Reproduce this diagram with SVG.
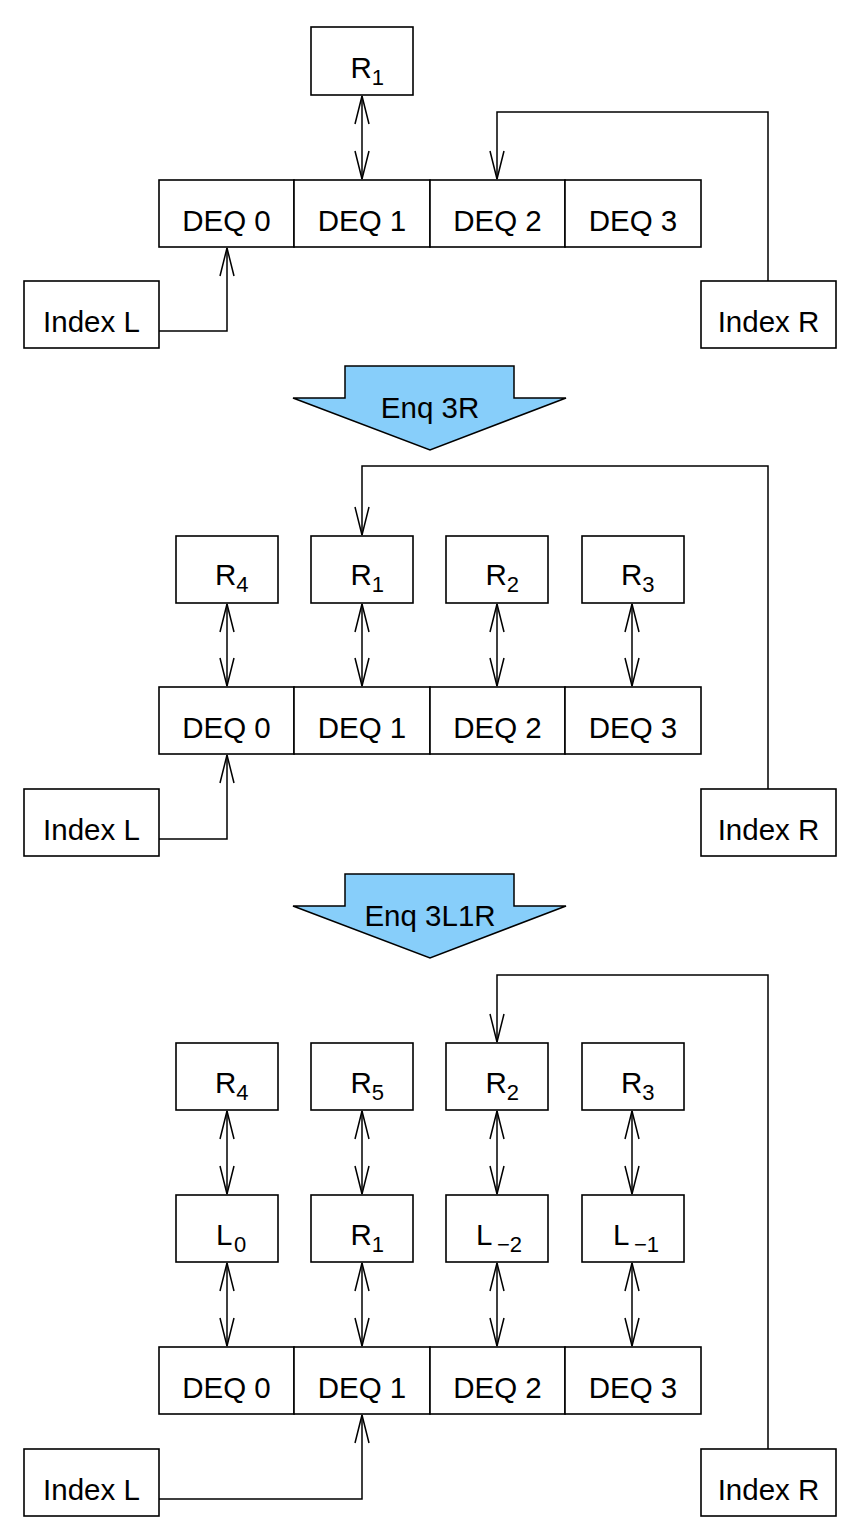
<svg xmlns="http://www.w3.org/2000/svg" width="866" height="1536" viewBox="0 0 866 1536">
<defs>
<marker id="ah" markerUnits="userSpaceOnUse" markerWidth="32" markerHeight="18" viewBox="-30 -9 32 18" refX="0" refY="0" orient="auto-start-reverse">
<path d="M-28,-7 L0,0 L-28,7" fill="none" stroke="#000" stroke-width="1.5"/>
</marker>
<style>
.box{fill:#fff;stroke:#000;stroke-width:1.6}
.t{font-family:"Liberation Sans",Arial,Helvetica,sans-serif;font-size:29.5px;fill:#000}
.m{text-anchor:middle}
.sub{font-size:22px}
.c{fill:none;stroke:#000;stroke-width:1.5}
.c1{marker-end:url(#ah)}
.c2{marker-start:url(#ah);marker-end:url(#ah)}
.blk{fill:#87cefa;stroke:#000;stroke-width:1.5;stroke-linejoin:miter}
</style>
</defs>
<rect width="866" height="1536" fill="#fff"/>

<g id="connectors">
<!-- section 1 -->
<path class="c c2" d="M362,96 V179"/>
<path class="c c1" d="M768,281 V112 H497 V179"/>
<path class="c c1" d="M159,331 H227 V248"/>
<!-- section 2 -->
<path class="c c2" d="M227,604 V686"/>
<path class="c c2" d="M362,604 V686"/>
<path class="c c2" d="M497,604 V686"/>
<path class="c c2" d="M632,604 V686"/>
<path class="c c1" d="M768,789 V466 H362 V535"/>
<path class="c c1" d="M159,839 H227 V755"/>
<!-- section 3 -->
<path class="c c2" d="M227,1111 V1194"/>
<path class="c c2" d="M362,1111 V1194"/>
<path class="c c2" d="M497,1111 V1194"/>
<path class="c c2" d="M632,1111 V1194"/>
<path class="c c2" d="M227,1263 V1346"/>
<path class="c c2" d="M362,1263 V1346"/>
<path class="c c2" d="M497,1263 V1346"/>
<path class="c c2" d="M632,1263 V1346"/>
<path class="c c1" d="M768,1449 V975 H497 V1042"/>
<path class="c c1" d="M159,1499 H362 V1415"/>
</g>

<!-- ===== Section 1 ===== -->
<g id="s1-R1"><rect class="box" x="311" y="27" width="102" height="68"/><text class="t" x="350.5" y="78">R<tspan class="sub" dy="7">1</tspan></text></g>
<g id="s1-deq0"><rect class="box" x="159" y="180" width="135" height="67"/><text class="t m" x="226.5" y="231">DEQ 0</text></g>
<g id="s1-deq1"><rect class="box" x="294" y="180" width="136" height="67"/><text class="t m" x="362" y="231">DEQ 1</text></g>
<g id="s1-deq2"><rect class="box" x="430" y="180" width="135" height="67"/><text class="t m" x="497.5" y="231">DEQ 2</text></g>
<g id="s1-deq3"><rect class="box" x="565" y="180" width="136" height="67"/><text class="t m" x="633" y="231">DEQ 3</text></g>
<g id="s1-indexL"><rect class="box" x="24" y="281" width="135" height="67"/><text class="t m" x="91.5" y="332">Index L</text></g>
<g id="s1-indexR"><rect class="box" x="701" y="281" width="135" height="67"/><text class="t m" x="768.5" y="332">Index R</text></g>

<g id="op1"><polygon class="blk" points="345,366 514,366 514,398 566,398 430,450 293,398 345,398"/><text class="t m" x="430" y="418">Enq 3R</text></g>

<!-- ===== Section 2 ===== -->
<g id="s2-R4"><rect class="box" x="176" y="536" width="102" height="67"/><text class="t" x="215" y="585">R<tspan class="sub" dy="7">4</tspan></text></g>
<g id="s2-R1"><rect class="box" x="311" y="536" width="102" height="67"/><text class="t" x="350.5" y="585">R<tspan class="sub" dy="7">1</tspan></text></g>
<g id="s2-R2"><rect class="box" x="446" y="536" width="102" height="67"/><text class="t" x="485.5" y="585">R<tspan class="sub" dy="7">2</tspan></text></g>
<g id="s2-R3"><rect class="box" x="582" y="536" width="102" height="67"/><text class="t" x="621" y="585">R<tspan class="sub" dy="7">3</tspan></text></g>
<g id="s2-deq0"><rect class="box" x="159" y="687" width="135" height="67"/><text class="t m" x="226.5" y="738">DEQ 0</text></g>
<g id="s2-deq1"><rect class="box" x="294" y="687" width="136" height="67"/><text class="t m" x="362" y="738">DEQ 1</text></g>
<g id="s2-deq2"><rect class="box" x="430" y="687" width="135" height="67"/><text class="t m" x="497.5" y="738">DEQ 2</text></g>
<g id="s2-deq3"><rect class="box" x="565" y="687" width="136" height="67"/><text class="t m" x="633" y="738">DEQ 3</text></g>
<g id="s2-indexL"><rect class="box" x="24" y="789" width="135" height="67"/><text class="t m" x="91.5" y="840">Index L</text></g>
<g id="s2-indexR"><rect class="box" x="701" y="789" width="135" height="67"/><text class="t m" x="768.5" y="840">Index R</text></g>

<g id="op2"><polygon class="blk" points="345,874 514,874 514,906 566,906 430,958 293,906 345,906"/><text class="t m" x="430" y="926">Enq 3L1R</text></g>

<!-- ===== Section 3 ===== -->
<g id="s3-R4"><rect class="box" x="176" y="1043" width="102" height="67"/><text class="t" x="215" y="1093">R<tspan class="sub" dy="7">4</tspan></text></g>
<g id="s3-R5"><rect class="box" x="311" y="1043" width="102" height="67"/><text class="t" x="350.5" y="1093">R<tspan class="sub" dy="7">5</tspan></text></g>
<g id="s3-R2"><rect class="box" x="446" y="1043" width="102" height="67"/><text class="t" x="485.5" y="1093">R<tspan class="sub" dy="7">2</tspan></text></g>
<g id="s3-R3"><rect class="box" x="582" y="1043" width="102" height="67"/><text class="t" x="621" y="1093">R<tspan class="sub" dy="7">3</tspan></text></g>
<g id="s3-L0"><rect class="box" x="176" y="1195" width="102" height="67"/><text class="t" x="216" y="1245">L<tspan class="sub" x="234" dy="7">0</tspan></text></g>
<g id="s3-R1"><rect class="box" x="311" y="1195" width="102" height="67"/><text class="t" x="350.5" y="1245">R<tspan class="sub" dy="7">1</tspan></text></g>
<g id="s3-Lm2"><rect class="box" x="446" y="1195" width="102" height="67"/><text class="t" x="476" y="1245">L<tspan class="sub" x="497" dy="7">−2</tspan></text></g>
<g id="s3-Lm1"><rect class="box" x="582" y="1195" width="102" height="67"/><text class="t" x="613" y="1245">L<tspan class="sub" x="634" dy="7">−1</tspan></text></g>
<g id="s3-deq0"><rect class="box" x="159" y="1347" width="135" height="67"/><text class="t m" x="226.5" y="1398">DEQ 0</text></g>
<g id="s3-deq1"><rect class="box" x="294" y="1347" width="136" height="67"/><text class="t m" x="362" y="1398">DEQ 1</text></g>
<g id="s3-deq2"><rect class="box" x="430" y="1347" width="135" height="67"/><text class="t m" x="497.5" y="1398">DEQ 2</text></g>
<g id="s3-deq3"><rect class="box" x="565" y="1347" width="136" height="67"/><text class="t m" x="633" y="1398">DEQ 3</text></g>
<g id="s3-indexL"><rect class="box" x="24" y="1449" width="135" height="67"/><text class="t m" x="91.5" y="1500">Index L</text></g>
<g id="s3-indexR"><rect class="box" x="701" y="1449" width="135" height="67"/><text class="t m" x="768.5" y="1500">Index R</text></g>
</svg>
